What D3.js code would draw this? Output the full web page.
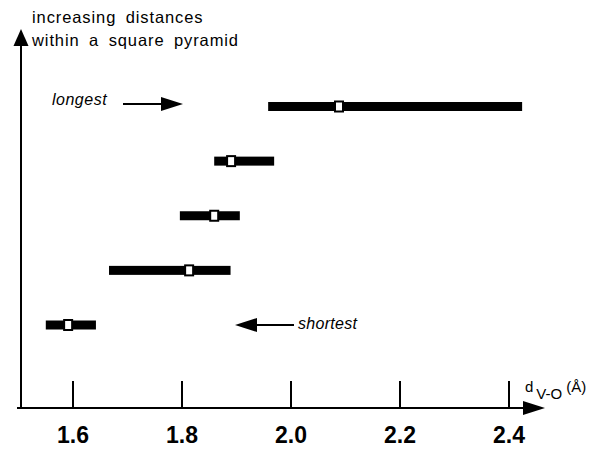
<!DOCTYPE html>
<html>
<head>
<meta charset="utf-8">
<script src="https://cdn.jsdelivr.net/npm/d3@7"></script>
<style>
  body { margin: 0; background: #fff; }
  text { font-family: "Liberation Sans", Arial, sans-serif; fill: #000; }
</style>
</head>
<body>
<div id="chart"></div>
<script>
// V-O distance ranges, from shortest (bottom) to longest (top)
var rows = ["V-O1", "V-O2", "V-O3", "V-O4", "V-O5"]
var minValues = [1.551, 1.667, 1.797, 1.860, 1.959]
var maxValues = [1.643, 1.890, 1.907, 1.970, 2.425]
var meanValues = [1.592, 1.814, 1.860, 1.891, 2.089]
var tickValues = [1.6, 1.8, 2.0, 2.2, 2.4]

var width = 597,
    height = 449,
    baseline = 408,
    yAxisX = 21

var svg = d3.select("#chart").append("svg")
  .attr("width", width)
  .attr("height", height)

// --- scales ---------------------------------------
var x = d3.scaleLinear().domain([1.6, 2.4]).range([72.5, 508.5])
var y = d3.scalePoint().domain(rows).range([325, 106.5])

// --- x axis ---------------------------------------
var xAxis = d3.axisBottom(x)
  .tickValues(tickValues)
  .tickFormat(d3.format(".1f"))
  .tickSize(-27)
  .tickPadding(19)

var gx = svg.append("g")
  .attr("transform", `translate(0,${baseline})`)
  .call(xAxis)

gx.select(".domain").remove()
gx.selectAll(".tick line").attr("stroke", "#000").attr("stroke-width", 2)
gx.selectAll(".tick text")
  .attr("fill", "#000")
  .style("font-size", "23px")
  .style("font-weight", "bold")

// axis line with arrow head
var xStart = x(1.5) - 1, xTip = x(2.467)
svg.append("line")
  .attr("x1", xStart).attr("x2", xTip - 18)
  .attr("y1", baseline).attr("y2", baseline)
  .attr("stroke", "#000").attr("stroke-width", 2)
svg.append("path")
  .attr("d", `M${xTip},${baseline} L${xTip - 22},${baseline - 7} L${xTip - 22},${baseline + 7} Z`)
  .attr("fill", "#000")

// axis label d V-O (Å)
var xLabel = svg.append("text")
  .attr("x", 525).attr("y", 392)
  .style("font-size", "15px")
xLabel.append("tspan").text("d")
xLabel.append("tspan").attr("dx", 3).attr("dy", 7).text("V-O")
xLabel.append("tspan").attr("dx", 4).attr("dy", -7).text("(Å)")

// --- y axis ---------------------------------------
svg.append("line")
  .attr("x1", yAxisX).attr("x2", yAxisX)
  .attr("y1", 42).attr("y2", baseline)
  .attr("stroke", "#000").attr("stroke-width", 2)
svg.append("path")
  .attr("d", `M${yAxisX},29 L${yAxisX - 7.5},46 L${yAxisX + 7.5},46 Z`)
  .attr("fill", "#000")

var title = svg.append("text")
  .style("font-size", "16.5px")
  .style("letter-spacing", "0.9px")
  .style("word-spacing", "4px")
title.append("tspan").attr("x", 32).attr("y", 23).text("increasing distances")
title.append("tspan").attr("x", 32).attr("y", 46).text("within a square pyramid")

// --- bars ---------------------------------------
var bars = svg.append("g").attr("class", "bars")

bars.selectAll("rect.range")
  .data(rows)
  .enter().append("rect")
    .attr("class", "range")
    .attr("x", (d, i) => x(minValues[i]))
    .attr("width", (d, i) => x(maxValues[i]) - x(minValues[i]))
    .attr("y", d => y(d) - 4.5)
    .attr("height", 9)
    .attr("fill", "#000")

bars.selectAll("rect.mean")
  .data(rows)
  .enter().append("rect")
    .attr("class", "mean")
    .attr("x", (d, i) => x(meanValues[i]) - 4)
    .attr("width", 8)
    .attr("y", d => y(d) - 5)
    .attr("height", 10)
    .attr("fill", "#fff")
    .attr("stroke", "#000")
    .attr("stroke-width", 2)

// --- annotations ---------------------------------------
svg.append("text")
  .attr("x", 52).attr("y", 105)
  .style("font-size", "16px")
  .style("font-style", "italic")
  .style("letter-spacing", "0.5px")
  .text("longest")
svg.append("line")
  .attr("x1", 123).attr("x2", 165)
  .attr("y1", 104).attr("y2", 104)
  .attr("stroke", "#000").attr("stroke-width", 2)
svg.append("path")
  .attr("d", "M183,104 L161,97 L161,111 Z")
  .attr("fill", "#000")

svg.append("text")
  .attr("x", 298).attr("y", 329)
  .style("font-size", "16px")
  .style("font-style", "italic")
  .style("letter-spacing", "0.3px")
  .text("shortest")
svg.append("line")
  .attr("x1", 252).attr("x2", 294)
  .attr("y1", 325).attr("y2", 325)
  .attr("stroke", "#000").attr("stroke-width", 2)
svg.append("path")
  .attr("d", "M235,325 L257,318 L257,332 Z")
  .attr("fill", "#000")
</script>
</body>
</html>
